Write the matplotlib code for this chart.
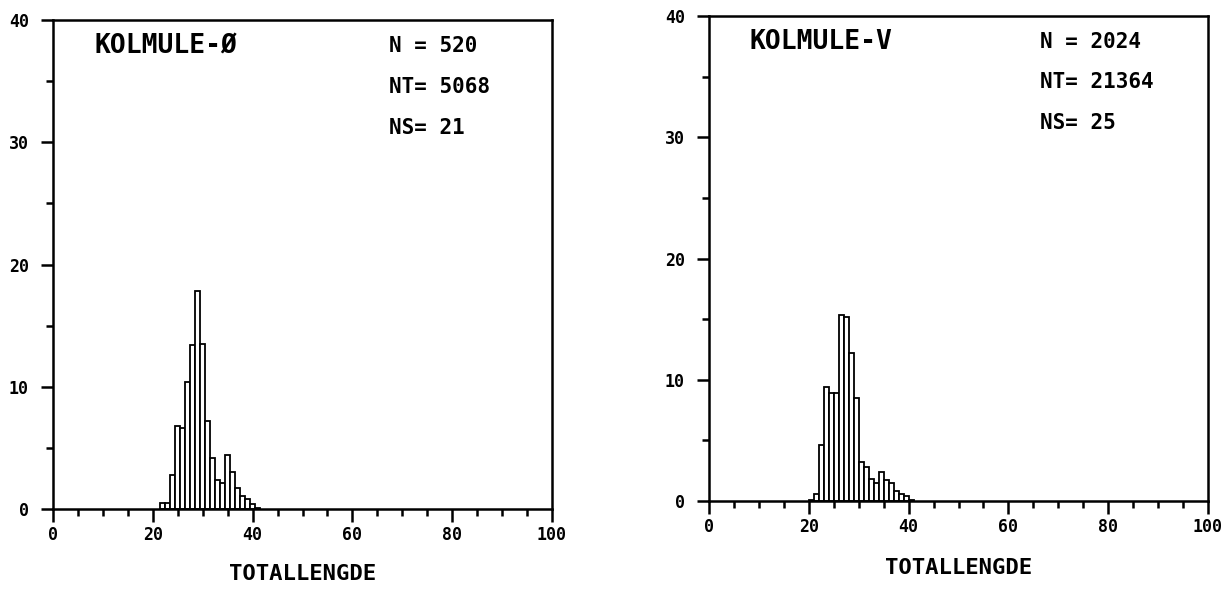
import matplotlib
matplotlib.use("Agg")
import matplotlib.pyplot as plt
from matplotlib.ticker import MultipleLocator

# ---------------- data ----------------
# Left panel: KOLMULE-Ø (bin centres in cm, percent)
lengths_o = [22, 23, 24, 25, 26, 27, 28, 29, 30, 31, 32, 33, 34, 35, 36, 37, 38, 39, 40, 41]
pct_o = [0.5, 0.5, 2.8, 6.8, 6.6, 10.4, 13.4, 17.8, 13.5, 7.2, 4.2, 2.4, 2.1, 4.4, 3.0,
         1.7, 1.1, 0.8, 0.4, 0.1]

# Right panel: KOLMULE-V
lengths_v = [20.5, 21.5, 22.5, 23.5, 24.5, 25.5, 26.5, 27.5, 28.5, 29.5, 30.5, 31.5,
             32.5, 33.5, 34.5, 35.5, 36.5, 37.5, 38.5, 39.5, 40.5]
pct_v = [0.1, 0.6, 4.6, 9.4, 8.9, 8.9, 15.3, 15.2, 12.2, 8.5, 3.2, 2.8, 1.8, 1.5, 2.4,
         1.7, 1.5, 0.8, 0.6, 0.4, 0.1]

titles = ["KOLMULE-Ø", "KOLMULE-V"]
stats = [["N = 520", "NT= 5068", "NS= 21"],
         ["N = 2024", "NT= 21364", "NS= 25"]]
xlabel = "TOTALLENGDE"
x_ticks = [0, 20, 40, 60, 80, 100]
y_ticks = [0, 10, 20, 30, 40]

# ---------------- figure ----------------
plt.rcParams['font.family'] = ['DejaVu Sans Mono', 'DejaVu Sans']
plt.rcParams['font.weight'] = 'bold'

fig = plt.figure(figsize=(12.26, 5.93), dpi=100)
W, H = 1226, 593

# axes boxes in pixel coordinates (left, right, y of 0, y of 40)
boxes = [(53, 552, 509, 20), (709, 1208, 501, 16)]
label_y = [574, 568]
title_x = [0.084, 0.082]
stats_x = [0.673, 0.663]

datasets = [(lengths_o, pct_o), (lengths_v, pct_v)]

for i, ((x0, x1, yb, yt), (xs, ys)) in enumerate(zip(boxes, datasets)):
    ax = fig.add_axes([x0 / W, 1 - yb / H, (x1 - x0) / W, (yb - yt) / H])
    ax.bar(xs, ys, width=1.0, facecolor='white', edgecolor='black', linewidth=1.3,
           align='center', zorder=2)
    ax.set_xlim(0, 100)
    ax.set_ylim(0, 40)
    for s in ax.spines.values():
        s.set_linewidth(1.8)
        s.set_color('black')
    ax.xaxis.set_minor_locator(MultipleLocator(5))
    ax.yaxis.set_minor_locator(MultipleLocator(5))
    ax.set_xticks(x_ticks)
    ax.set_yticks(y_ticks)
    ax.set_xticklabels([str(t) for t in x_ticks])
    ax.set_yticklabels([str(t) for t in y_ticks])
    ax.tick_params(axis='x', which='major', direction='out', length=9, width=1.8,
                   labelsize=12, pad=3.5)
    ax.tick_params(axis='x', which='minor', direction='out', length=5, width=1.8)
    ax.tick_params(axis='y', which='major', direction='out', length=8.5, width=1.8,
                   labelsize=12, pad=9)
    ax.tick_params(axis='y', which='minor', direction='out', length=5, width=1.8)
    for lab in ax.get_xticklabels() + ax.get_yticklabels():
        lab.set_fontweight('bold')

    ax.text(title_x[i], 0.947, titles[i], transform=ax.transAxes, fontsize=19,
            fontweight='bold', va='center', ha='left')
    for k, st in enumerate(stats[i]):
        ax.text(stats_x[i], 0.947 - k * 0.084, st, transform=ax.transAxes, fontsize=15,
                fontweight='bold', va='center', ha='left')

    fig.text(((x0 + x1) / 2) / W, 1 - label_y[i] / H, xlabel, fontsize=16,
             fontweight='bold', ha='center', va='center')

fig.savefig("out.png", dpi=100, facecolor='white')
